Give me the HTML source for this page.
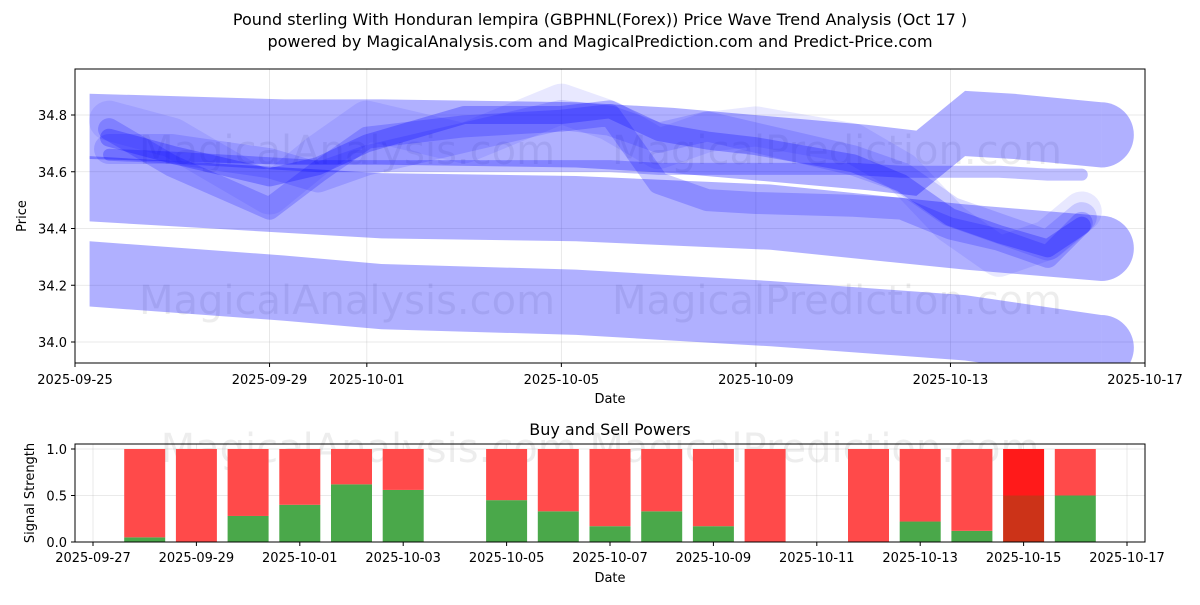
<!DOCTYPE html>
<html><head><meta charset="utf-8"><style>
body{margin:0;background:#fff;}
svg{font-family:"DejaVu Sans","Liberation Sans",sans-serif;}
</style></head><body>
<svg width="1200" height="600" viewBox="0 0 1200 600">
<text x="600" y="25" text-anchor="middle" font-size="16">Pound sterling With Honduran lempira (GBPHNL(Forex)) Price Wave Trend Analysis (Oct 17 )</text>
<text x="600" y="47" text-anchor="middle" font-size="16">powered by MagicalAnalysis.com and MagicalPrediction.com and Predict-Price.com</text>
<g id="topchart"></g>
<g id="botchart"></g>
</svg>
<script>
// ---- price chart data (day offset from 2025-09-25) ----
const bandADays=[0,4,6,10,12,14,16,17,18,19,20.8];
const bandAVals=[34.76,34.74,34.74,34.73,34.71,34.68,34.65,34.63,34.77,34.76,34.73];
const bandBDays=[0,4,6,10,14,18,20.8];
const bandBVals=[34.54,34.50,34.48,34.47,34.44,34.37,34.33];
const bandCDays=[0,4,6,10,14,18,20.8];
const bandCVals=[34.24,34.19,34.16,34.14,34.10,34.05,33.98];
const bandHalf=0.115;
const waveDays=[0.7,2,4,5,6,8,10,11,12,13,14,16,17,18,19,20,20.7];
const wave1=[34.72,34.66,34.58,34.62,34.70,34.80,34.80,34.82,34.74,34.71,34.69,34.63,34.56,34.44,34.38,34.33,34.41];
const wave2=[34.75,34.62,34.47,34.60,34.72,34.76,34.78,34.80,34.56,34.50,34.49,34.48,34.47,34.40,34.36,34.30,34.42];
const wave3=[34.68,34.68,34.63,34.58,34.64,34.72,34.80,34.78,34.72,34.76,34.72,34.64,34.58,34.46,34.40,34.34,34.44];
const wave4=[34.66,34.65,34.63,34.62,34.62,34.62,34.62,34.62,34.61,34.61,34.61,34.61,34.60,34.60,34.60,34.59,34.59];
const wave5=[34.78,34.72,34.52,34.66,34.78,34.70,34.84,34.78,34.68,34.74,34.76,34.70,34.60,34.42,34.30,34.36,34.46];
const yTicks=[34.0,34.2,34.4,34.6,34.8];
const xTickDays=[0,4,6,10,14,18,22];
const xTickLabels=["2025-09-25","2025-09-29","2025-10-01","2025-10-05","2025-10-09","2025-10-13","2025-10-17"];
// ---- signal chart data (day offset from 2025-09-27) ----
const barDays=[1,2,3,4,5,6,8,9,10,11,12,13,15,16,17,18,19];
const buyVals=[0.05,0,0.28,0.40,0.62,0.56,0.45,0.33,0.17,0.33,0.17,0,0,0.22,0.12,0.5,0.5];
const sellVals=[0.95,1,0.72,0.60,0.38,0.44,0.55,0.67,0.83,0.67,0.83,1,1,0.78,0.88,0.5,0.5];
const bTickDays=[0,2,4,6,8,10,12,14,16,18,20];
const bTickLabels=["2025-09-27","2025-09-29","2025-10-01","2025-10-03","2025-10-05","2025-10-07","2025-10-09","2025-10-11","2025-10-13","2025-10-15","2025-10-17"];
const sTicks=[0.0,0.5,1.0];

const NS="http://www.w3.org/2000/svg";
function mk(parent,tag,attrs){const e=document.createElementNS(NS,tag);for(const k in attrs)e.setAttribute(k,attrs[k]);parent.appendChild(e);return e;}
const X=d=>75+d*(1070/22);
const Y=v=>342-(v-34.0)*(227/0.8);
const topG=document.getElementById('topchart');
xTickDays.forEach((d,i)=>{
 const l=mk(topG,'line',{x1:X(d),x2:X(d),y1:69,y2:363,stroke:'#b0b0b0','stroke-opacity':0.35,'stroke-width':0.8});
 
 
 const t=mk(topG,'line',{x1:X(d),x2:X(d),y1:363,y2:367,stroke:'#000'});
 
 
 const tx=mk(topG,'text',{x:X(d),y:384,'text-anchor':'middle','font-size':13});
 tx.textContent=xTickLabels[i];
 
 
});
yTicks.forEach(v=>{
 const l=mk(topG,'line',{x1:75,x2:1145,y1:Y(v),y2:Y(v),stroke:'#b0b0b0','stroke-opacity':0.35,'stroke-width':0.8});
 
 
 const t=mk(topG,'line',{x1:71,x2:75,y1:Y(v),y2:Y(v),stroke:'#000'});
 
 
 const tx=mk(topG,'text',{x:67,y:Y(v)+5,'text-anchor':'end','font-size':13});
 tx.textContent=v.toFixed(1);
 
 
});
[[150,'wm-top'],[300,'wm-mid']].forEach(([y,n])=>{
 const t=mk(topG,'text',{x:347,y:y+14,'text-anchor':'middle','font-size':40,fill:'#000','fill-opacity':0.07});
 t.textContent='MagicalAnalysis.com';
 
 
 const t2=mk(topG,'text',{x:837,y:y+14,'text-anchor':'middle','font-size':40,fill:'#000','fill-opacity':0.07});
 t2.textContent='MagicalPrediction.com';
 
 
});
const clip=mk(topG,'clipPath',{id:'pc'});mk(clip,'rect',{x:75,y:69,width:1070,height:294});
const plot=mk(topG,'g',{'clip-path':'url(#pc)'});
function band(days,vals,name){
 const g=mk(plot,'g',{});
 
 
 const up=days.map((d,i)=>X(d+0.3)+','+Y(vals[i]+bandHalf));
 const dn=days.map((d,i)=>X(d+0.3)+','+Y(vals[i]-bandHalf)).reverse();
 mk(g,'polygon',{points:up.concat(dn).join(' '),fill:'#0000ff','fill-opacity':0.31});
 const n=days.length-1;
 const r=Y(34)-Y(34+bandHalf);
 mk(g,'path',{d:`M${X(days[n]+0.3)},${Y(vals[n]+bandHalf)} A${r},${r} 0 0 1 ${X(days[n]+0.3)},${Y(vals[n]-bandHalf)} Z`,fill:'#0000ff','fill-opacity':0.31});
}
band(bandCDays,bandCVals,'wave-band-low');
band(bandBDays,bandBVals,'wave-band-mid');
band(bandADays,bandAVals,'wave-band-high');
function wave(vals,w,op,name){
 const p=mk(plot,'polyline',{points:waveDays.map((d,i)=>X(d)+','+Y(vals[i])).join(' '),fill:'none',stroke:'#0000ff','stroke-opacity':op,'stroke-width':w,'stroke-linecap':'round','stroke-linejoin':'round'});
 
 
}
wave(wave5,40,0.09,'wave-line-5');
wave(wave2,22,0.2,'wave-line-2');
wave(wave3,30,0.14,'wave-line-3');
wave(wave1,18,0.26,'wave-line-1');
wave(wave4,12,0.25,'wave-line-4');
mk(topG,'rect',{x:75,y:69,width:1070,height:294,fill:'none',stroke:'#000','stroke-width':1});
const yl=mk(topG,'text',{x:26,y:216,'text-anchor':'middle','font-size':13,transform:'rotate(-90 26 216)'});
yl.textContent='Price';


const xl=mk(topG,'text',{x:610,y:403,'text-anchor':'middle','font-size':13});
xl.textContent='Date';



const botG=document.getElementById('botchart');
const BX=d=>93+d*(1034/20);
const BY=v=>542-v*93;
const bt=mk(botG,'text',{x:610,y:435,'text-anchor':'middle','font-size':16});
bt.textContent='Buy and Sell Powers';


bTickDays.forEach((d,i)=>{
 const l=mk(botG,'line',{x1:BX(d),x2:BX(d),y1:444,y2:542,stroke:'#b0b0b0','stroke-opacity':0.35,'stroke-width':0.8});
 
 
 const t=mk(botG,'line',{x1:BX(d),x2:BX(d),y1:542,y2:546,stroke:'#000'});
 
 
 const tx=mk(botG,'text',{x:BX(d),y:562,'text-anchor':'middle','font-size':13});
 tx.textContent=bTickLabels[i];
 
 
});
sTicks.forEach(v=>{
 const l=mk(botG,'line',{x1:75,x2:1145,y1:BY(v),y2:BY(v),stroke:'#b0b0b0','stroke-opacity':0.35,'stroke-width':0.8});
 
 
 const t=mk(botG,'line',{x1:71,x2:75,y1:BY(v),y2:BY(v),stroke:'#000'});
 
 
 const tx=mk(botG,'text',{x:67,y:BY(v)+5,'text-anchor':'end','font-size':13});
 tx.textContent=v.toFixed(1);
 
 
});
const bw=mk(botG,'text',{x:600,y:462,'text-anchor':'middle','font-size':40,fill:'#000','fill-opacity':0.07});
bw.textContent='MagicalAnalysis.com    MagicalPrediction.com';


barDays.forEach((d,i)=>{
 const w=41, x=BX(d)-w/2;
 const strong=(d===18);
 const g=mk(botG,'rect',{x:x,y:BY(buyVals[i]),width:w,height:buyVals[i]*93,fill:strong?'#cc3318':'#4aa84a'});
 
 
 const r=mk(botG,'rect',{x:x,y:BY(buyVals[i]+sellVals[i]),width:w,height:sellVals[i]*93,fill:strong?'#ff1a1a':'#ff4a4a'});
 
 
});
mk(botG,'rect',{x:75,y:444,width:1070,height:98,fill:'none',stroke:'#000','stroke-width':1});
const syl=mk(botG,'text',{x:34,y:493,'text-anchor':'middle','font-size':13,transform:'rotate(-90 34 493)'});
syl.textContent='Signal Strength';


const sxl=mk(botG,'text',{x:610,y:582,'text-anchor':'middle','font-size':13});
sxl.textContent='Date';


</script>
</body></html>
